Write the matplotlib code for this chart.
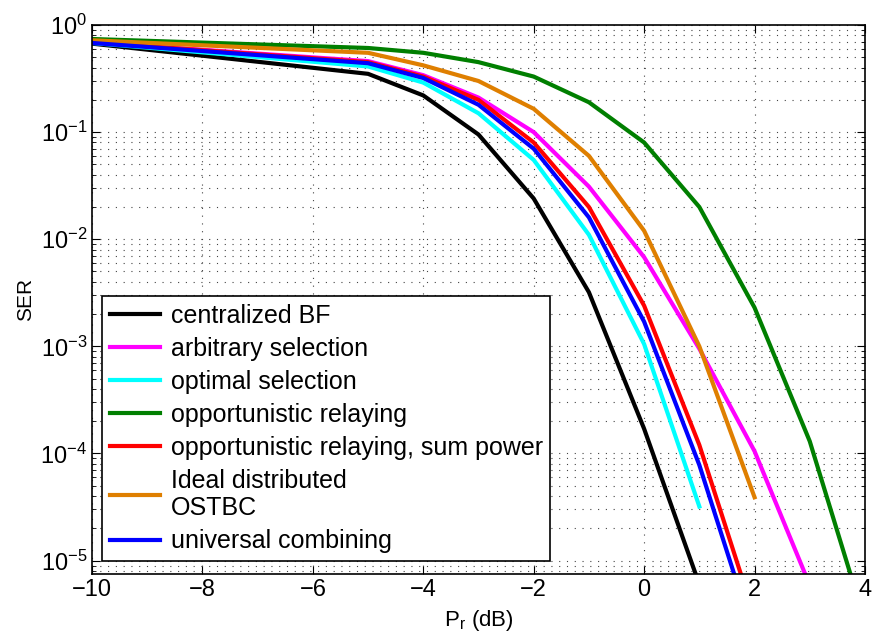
import numpy as np
import matplotlib
matplotlib.use('Agg')
import matplotlib.pyplot as plt
from matplotlib.ticker import LogLocator, NullFormatter

plt.rcParams['font.family'] = ['Liberation Sans', 'DejaVu Sans']
plt.rcParams['mathtext.fontset'] = 'custom'
plt.rcParams['mathtext.rm'] = 'Liberation Sans'
plt.rcParams['mathtext.it'] = 'Liberation Sans:italic'
plt.rcParams['mathtext.default'] = 'regular'

# SNR points (dB)
pr = [-10, -5, -4, -3, -2, -1, 0, 1, 2, 3, 4]

# SER curves
ser_central = [0.67, 0.35, 0.22, 0.095, 0.024, 3.2e-3, 1.7e-4, 6e-6]
ser_arbitrary = [0.69, 0.46, 0.34, 0.21, 0.10, 0.031, 6.8e-3, 9.5e-4, 1.05e-4, 5.9e-6]
ser_optimal = [0.68, 0.41, 0.29, 0.15, 0.055, 0.011, 1.05e-3, 3.2e-5]
ser_opport = [0.74, 0.61, 0.55, 0.45, 0.33, 0.19, 0.08, 0.02, 2.3e-3, 1.3e-4, 2.7e-6]
ser_opport_sum = [0.69, 0.45, 0.33, 0.20, 0.08, 0.02, 2.4e-3, 1.2e-4, 3e-6]
ser_ostbc = [0.72, 0.55, 0.42, 0.30, 0.165, 0.06, 0.012, 1.0e-3, 3.9e-5]
ser_universal = [0.68, 0.44, 0.32, 0.18, 0.07, 0.016, 1.7e-3, 7.8e-5, 1.9e-6]

series = [
    ('centralized BF', ser_central, 'black'),
    ('arbitrary selection', ser_arbitrary, '#ff00ff'),
    ('optimal selection', ser_optimal, '#00ffff'),
    ('opportunistic relaying', ser_opport, '#007f00'),
    ('opportunistic relaying, sum power', ser_opport_sum, '#ff0000'),
    ('Ideal distributed\nOSTBC', ser_ostbc, '#df7f00'),
    ('universal combining', ser_universal, '#0000ff'),
]

fig = plt.figure(figsize=(8.73, 6.36), dpi=100)
ax = fig.add_axes([0.1054, 0.0975, 0.8854, 0.8632])

for name, vals, col in series:
    ax.semilogy(pr[:len(vals)], vals, color=col, linewidth=3, label=name)

ax.set_xlim(-10, 4)
ax.set_ylim(7.5e-6, 1)
ax.set_xticks([-10, -8, -6, -4, -2, 0, 2, 4])
ax.yaxis.set_major_locator(LogLocator(base=10, numticks=10))
ax.yaxis.set_minor_locator(LogLocator(base=10, subs=np.arange(2, 10), numticks=20))
ax.yaxis.set_minor_formatter(NullFormatter())

grid_style = dict(linestyle=(0, (1, 6)), color='#444444', linewidth=0.8)
ax.grid(True, which='major', axis='both', **grid_style)
ax.grid(True, which='minor', axis='y', **grid_style)
ax.tick_params(which='both', direction='in', top=True, right=True, labelsize=17)
ax.tick_params(which='major', length=6)
ax.tick_params(which='minor', length=3)
for s in ax.spines.values():
    s.set_linewidth(1.2)

ax.set_xlabel('P$_r$ (dB)', fontsize=16, labelpad=5)
ax.set_ylabel('SER', fontsize=15, labelpad=4)

leg = ax.legend(loc='lower left', bbox_to_anchor=(0.013, 0.024), fontsize=18,
                frameon=True, fancybox=False, edgecolor='black', framealpha=1,
                handlelength=2.0, handletextpad=0.45, labelspacing=0.36,
                borderpad=0.3, borderaxespad=0)
leg.get_frame().set_linewidth(1.2)

plt.savefig('out.png', dpi=100)
